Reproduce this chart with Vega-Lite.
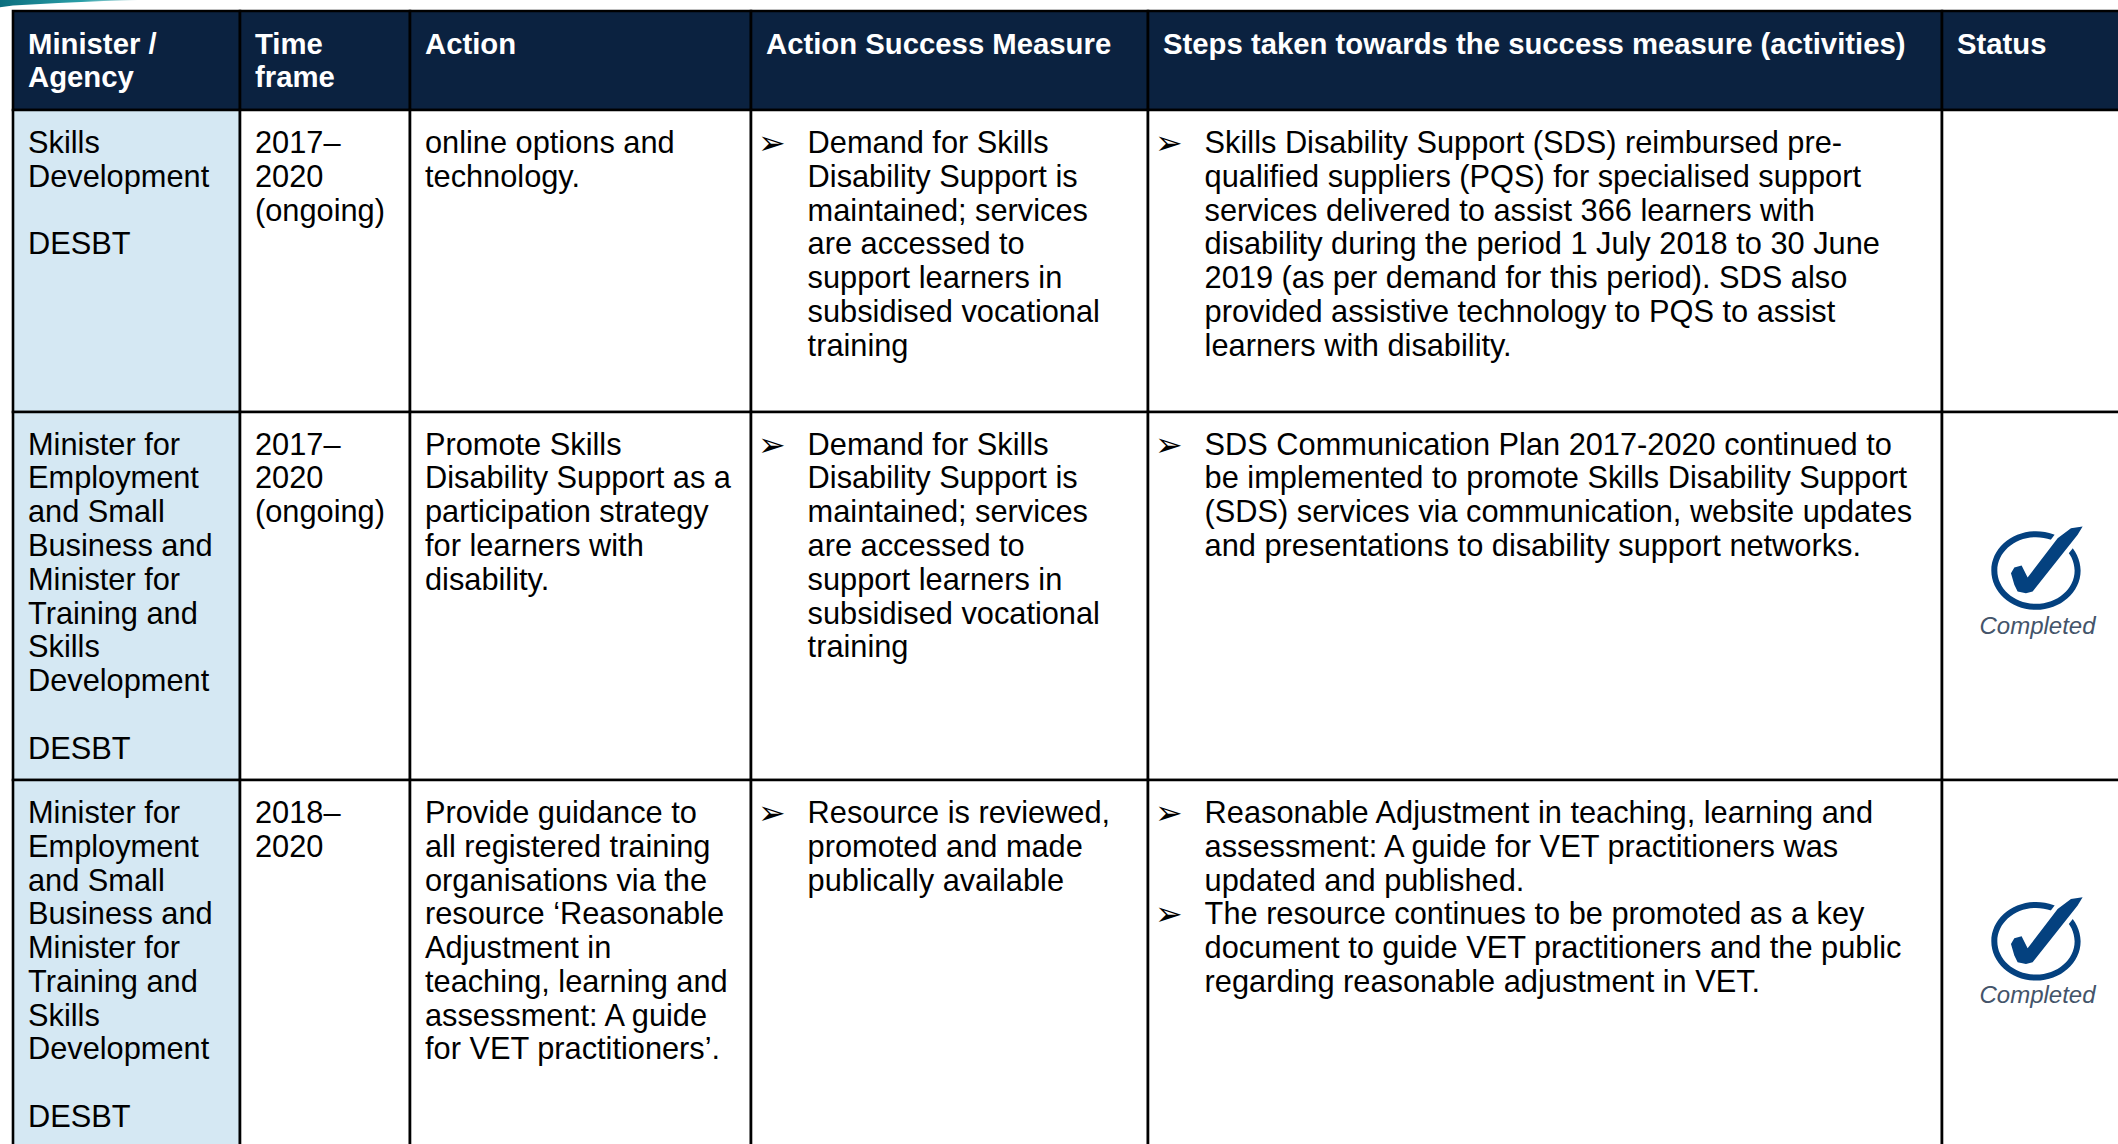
{"$schema":"https://vega.github.io/schema/vega-lite/v6.json","width":2118,"height":1144,"padding":0,"autosize":{"type":"none"},"background":"white","config":{"view":{"stroke":null}},
"datasets":{
"cells":[
{"column":0,"columnEnd":1,"top":0.3,"bottom":2.5,"kind":"header"},{"column":1,"columnEnd":2,"top":0.3,"bottom":2.5,"kind":"header"},{"column":2,"columnEnd":3,"top":0.3,"bottom":2.5,"kind":"header"},{"column":3,"columnEnd":4,"top":0.3,"bottom":2.5,"kind":"header"},{"column":4,"columnEnd":5,"top":0.3,"bottom":2.5,"kind":"header"},{"column":5,"columnEnd":6,"top":0.3,"bottom":2.5,"kind":"header"},
{"column":0,"columnEnd":1,"top":2.5,"bottom":9.5,"kind":"agency"},{"column":1,"columnEnd":2,"top":2.5,"bottom":9.5,"kind":"body"},{"column":2,"columnEnd":3,"top":2.5,"bottom":9.5,"kind":"body"},{"column":3,"columnEnd":4,"top":2.5,"bottom":9.5,"kind":"body"},{"column":4,"columnEnd":5,"top":2.5,"bottom":9.5,"kind":"body"},{"column":5,"columnEnd":6,"top":2.5,"bottom":9.5,"kind":"body"},
{"column":0,"columnEnd":1,"top":9.5,"bottom":19.5,"kind":"agency"},{"column":1,"columnEnd":2,"top":9.5,"bottom":19.5,"kind":"body"},{"column":2,"columnEnd":3,"top":9.5,"bottom":19.5,"kind":"body"},{"column":3,"columnEnd":4,"top":9.5,"bottom":19.5,"kind":"body"},{"column":4,"columnEnd":5,"top":9.5,"bottom":19.5,"kind":"body"},{"column":5,"columnEnd":6,"top":9.5,"bottom":19.5,"kind":"body"},
{"column":0,"columnEnd":1,"top":19.5,"bottom":30,"kind":"agency"},{"column":1,"columnEnd":2,"top":19.5,"bottom":30,"kind":"body"},{"column":2,"columnEnd":3,"top":19.5,"bottom":30,"kind":"body"},{"column":3,"columnEnd":4,"top":19.5,"bottom":30,"kind":"body"},{"column":4,"columnEnd":5,"top":19.5,"bottom":30,"kind":"body"},{"column":5,"columnEnd":6,"top":19.5,"bottom":30,"kind":"body"}],
"lines":[
{"column":0,"line":1,"label":"Minister /","part":"header"},{"column":0,"line":2,"label":"Agency","part":"header"},{"column":1,"line":1,"label":"Time","part":"header"},{"column":1,"line":2,"label":"frame","part":"header"},{"column":2,"line":1,"label":"Action","part":"header"},{"column":3,"line":1,"label":"Action Success Measure","part":"header"},{"column":4,"line":1,"label":"Steps taken towards the success measure (activities)","part":"header"},{"column":5,"line":1,"label":"Status","part":"header"},
{"column":0,"line":3,"label":"Skills","part":"body"},{"column":0,"line":4,"label":"Development","part":"body"},{"column":0,"line":6,"label":"DESBT","part":"body"},
{"column":1,"line":3,"label":"2017–","part":"body"},{"column":1,"line":4,"label":"2020","part":"body"},{"column":1,"line":5,"label":"(ongoing)","part":"body"},
{"column":2,"line":3,"label":"online options and","part":"body"},{"column":2,"line":4,"label":"technology.","part":"body"},
{"column":3,"line":3,"label":"➢","part":"marker"},
{"column":3,"line":3,"label":"Demand for Skills","part":"indented"},{"column":3,"line":4,"label":"Disability Support is","part":"indented"},{"column":3,"line":5,"label":"maintained; services","part":"indented"},{"column":3,"line":6,"label":"are accessed to","part":"indented"},{"column":3,"line":7,"label":"support learners in","part":"indented"},{"column":3,"line":8,"label":"subsidised vocational","part":"indented"},{"column":3,"line":9,"label":"training","part":"indented"},
{"column":4,"line":3,"label":"➢","part":"marker"},
{"column":4,"line":3,"label":"Skills Disability Support (SDS) reimbursed pre-","part":"indented"},{"column":4,"line":4,"label":"qualified suppliers (PQS) for specialised support","part":"indented"},{"column":4,"line":5,"label":"services delivered to assist 366 learners with","part":"indented"},{"column":4,"line":6,"label":"disability during the period 1 July 2018 to 30 June","part":"indented"},{"column":4,"line":7,"label":"2019 (as per demand for this period). SDS also","part":"indented"},{"column":4,"line":8,"label":"provided assistive technology to PQS to assist","part":"indented"},{"column":4,"line":9,"label":"learners with disability.","part":"indented"},
{"column":0,"line":10,"label":"Minister for","part":"body"},{"column":0,"line":11,"label":"Employment","part":"body"},{"column":0,"line":12,"label":"and Small","part":"body"},{"column":0,"line":13,"label":"Business and","part":"body"},{"column":0,"line":14,"label":"Minister for","part":"body"},{"column":0,"line":15,"label":"Training and","part":"body"},{"column":0,"line":16,"label":"Skills","part":"body"},{"column":0,"line":17,"label":"Development","part":"body"},{"column":0,"line":19,"label":"DESBT","part":"body"},
{"column":1,"line":10,"label":"2017–","part":"body"},{"column":1,"line":11,"label":"2020","part":"body"},{"column":1,"line":12,"label":"(ongoing)","part":"body"},
{"column":2,"line":10,"label":"Promote Skills","part":"body"},{"column":2,"line":11,"label":"Disability Support as a","part":"body"},{"column":2,"line":12,"label":"participation strategy","part":"body"},{"column":2,"line":13,"label":"for learners with","part":"body"},{"column":2,"line":14,"label":"disability.","part":"body"},
{"column":3,"line":10,"label":"➢","part":"marker"},
{"column":3,"line":10,"label":"Demand for Skills","part":"indented"},{"column":3,"line":11,"label":"Disability Support is","part":"indented"},{"column":3,"line":12,"label":"maintained; services","part":"indented"},{"column":3,"line":13,"label":"are accessed to","part":"indented"},{"column":3,"line":14,"label":"support learners in","part":"indented"},{"column":3,"line":15,"label":"subsidised vocational","part":"indented"},{"column":3,"line":16,"label":"training","part":"indented"},
{"column":4,"line":10,"label":"➢","part":"marker"},
{"column":4,"line":10,"label":"SDS Communication Plan 2017-2020 continued to","part":"indented"},{"column":4,"line":11,"label":"be implemented to promote Skills Disability Support","part":"indented"},{"column":4,"line":12,"label":"(SDS) services via communication, website updates","part":"indented"},{"column":4,"line":13,"label":"and presentations to disability support networks.","part":"indented"},
{"column":0,"line":20,"label":"Minister for","part":"body"},{"column":0,"line":21,"label":"Employment","part":"body"},{"column":0,"line":22,"label":"and Small","part":"body"},{"column":0,"line":23,"label":"Business and","part":"body"},{"column":0,"line":24,"label":"Minister for","part":"body"},{"column":0,"line":25,"label":"Training and","part":"body"},{"column":0,"line":26,"label":"Skills","part":"body"},{"column":0,"line":27,"label":"Development","part":"body"},{"column":0,"line":29,"label":"DESBT","part":"body"},
{"column":1,"line":20,"label":"2018–","part":"body"},{"column":1,"line":21,"label":"2020","part":"body"},
{"column":2,"line":20,"label":"Provide guidance to","part":"body"},{"column":2,"line":21,"label":"all registered training","part":"body"},{"column":2,"line":22,"label":"organisations via the","part":"body"},{"column":2,"line":23,"label":"resource ‘Reasonable","part":"body"},{"column":2,"line":24,"label":"Adjustment in","part":"body"},{"column":2,"line":25,"label":"teaching, learning and","part":"body"},{"column":2,"line":26,"label":"assessment: A guide","part":"body"},{"column":2,"line":27,"label":"for VET practitioners’.","part":"body"},
{"column":3,"line":20,"label":"➢","part":"marker"},
{"column":3,"line":20,"label":"Resource is reviewed,","part":"indented"},{"column":3,"line":21,"label":"promoted and made","part":"indented"},{"column":3,"line":22,"label":"publically available","part":"indented"},
{"column":4,"line":20,"label":"➢","part":"marker"},
{"column":4,"line":20,"label":"Reasonable Adjustment in teaching, learning and","part":"indented"},{"column":4,"line":21,"label":"assessment: A guide for VET practitioners was","part":"indented"},{"column":4,"line":22,"label":"updated and published.","part":"indented"},
{"column":4,"line":23,"label":"➢","part":"marker"},
{"column":4,"line":23,"label":"The resource continues to be promoted as a key","part":"indented"},{"column":4,"line":24,"label":"document to guide VET practitioners and the public","part":"indented"},{"column":4,"line":25,"label":"regarding reasonable adjustment in VET.","part":"indented"}],
"status":[{"column":5.5,"iconColumn":5.492,"iconLine":13.43,"captionLine":15.3,"label":"Completed"},{"column":5.5,"iconColumn":5.492,"iconLine":23.5,"captionLine":25.34,"label":"Completed"}],
"swoosh":[{"column":-0.1,"top":0,"bottom":0.2},{"column":0,"top":0,"bottom":0.15},{"column":0.2,"top":0,"bottom":0.08},{"column":0.4,"top":0,"bottom":0.03},{"column":0.55,"top":0,"bottom":0}]
},
"encoding":{"x":{"field":"column","type":"quantitative","axis":null,"scale":{"domain":[-0.1,0,1,2,3,4,5,6],"range":[0,13,240,410,751,1148,1942,2133],"clamp":false}}},
"layer":[
{"data":{"name":"swoosh"},"mark":{"type":"area","color":{"gradient":"linear","x1":0,"y1":0,"x2":1,"y2":0,"stops":[{"offset":0,"color":"#0B6E7E"},{"offset":0.6,"color":"#2A9FA8"},{"offset":1,"color":"#CFE8EA"}]}},"encoding":{"y":{"field":"top","type":"quantitative","axis":null,"scale":{"domain":[0,0.3,1,2,2.5,3,9,9.5,10,19,19.5,20,29,30],"range":[0,11,54,87.2,110,153,355.8,412,454.7,758.6,780,823.2,1126.8,1160]}},"y2":{"field":"bottom"}}},
{"data":{"name":"cells"},"mark":{"type":"rect","stroke":"#000000","strokeWidth":2.6},"encoding":{"x2":{"field":"columnEnd"},"y":{"field":"top","type":"quantitative","axis":null},"y2":{"field":"bottom"},"fill":{"field":"kind","type":"nominal","legend":null,"scale":{"domain":["header","agency","body"],"range":["#0B2240","#D5E8F3","#FFFFFF"]}}}},
{"data":{"name":"lines"},"transform":[{"filter":"datum.part==='header'"}],"mark":{"type":"text","align":"left","baseline":"alphabetic","dx":15,"font":"Liberation Sans","fontWeight":"bold","fontSize":29.3,"fill":"#FFFFFF"},"encoding":{"y":{"field":"line","type":"quantitative"},"text":{"field":"label"}}},
{"data":{"name":"lines"},"transform":[{"filter":"datum.part==='body'"}],"mark":{"type":"text","align":"left","baseline":"alphabetic","dx":15,"font":"Liberation Sans","fontSize":30.75,"fill":"#000000"},"encoding":{"y":{"field":"line","type":"quantitative"},"text":{"field":"label"}}},
{"data":{"name":"lines"},"transform":[{"filter":"datum.part==='indented'"}],"mark":{"type":"text","align":"left","baseline":"alphabetic","dx":56.6,"font":"Liberation Sans","fontSize":30.75,"fill":"#000000"},"encoding":{"y":{"field":"line","type":"quantitative"},"text":{"field":"label"}}},
{"data":{"name":"lines"},"transform":[{"filter":"datum.part==='marker'"}],"mark":{"type":"text","align":"left","baseline":"alphabetic","dx":7,"dy":1,"font":"DejaVu Sans","fontSize":33,"fill":"#000000"},"encoding":{"y":{"field":"line","type":"quantitative"},"text":{"field":"label"}}},
{"data":{"name":"status"},"mark":{"type":"point","filled":true,"size":10000,"opacity":1,"color":"#04417F","shape":"M-.893 0A.893 .787 0 1 1 .893 0A.893 .787 0 1 1 -.893 0ZM-.773 0A.773 .667 0 1 0 .773 0A.773 .667 0 1 0 -.773 0Z"},"encoding":{"x":{"field":"iconColumn","type":"quantitative"},"y":{"field":"iconLine","type":"quantitative"}}},
{"data":{"name":"status"},"mark":{"type":"point","filled":true,"size":10000,"opacity":1,"fill":"#FFFFFF","stroke":"#FFFFFF","strokeWidth":9,"shape":"M-.5 .053L-.433 -.06L-.287 -.1L-.167 .14L.433 -.647L.7 -.847L.933 -.88L.833 -.713L-.067 .42L-.2 .453L-.367 .42L-.433 .287Z"},"encoding":{"x":{"field":"iconColumn","type":"quantitative"},"y":{"field":"iconLine","type":"quantitative"}}},
{"data":{"name":"status"},"mark":{"type":"point","filled":true,"size":10000,"opacity":1,"color":"#04417F","shape":"M-.5 .053L-.433 -.06L-.287 -.1L-.167 .14L.433 -.647L.7 -.847L.933 -.88L.833 -.713L-.067 .42L-.2 .453L-.367 .42L-.433 .287Z"},"encoding":{"x":{"field":"iconColumn","type":"quantitative"},"y":{"field":"iconLine","type":"quantitative"}}},
{"data":{"name":"status"},"mark":{"type":"text","align":"center","baseline":"alphabetic","font":"Liberation Sans","fontStyle":"italic","fontSize":24,"fill":"#44546A"},"encoding":{"y":{"field":"captionLine","type":"quantitative"},"text":{"field":"label"}}}
]}
